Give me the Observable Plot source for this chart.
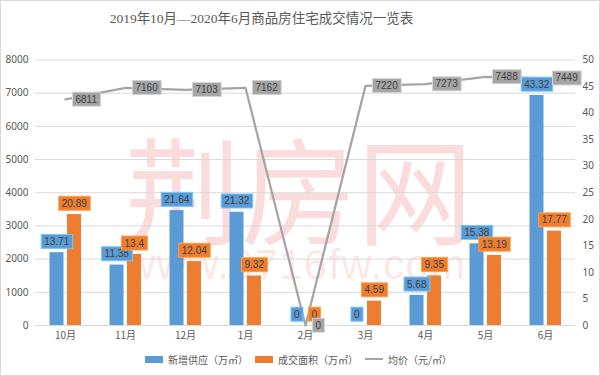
<!DOCTYPE html>
<html><head><meta charset="utf-8">
<script src="https://cdn.jsdelivr.net/npm/d3@7"></script>
<script src="https://cdn.jsdelivr.net/npm/@observablehq/plot@0.6"></script>
<style>
body{margin:0;background:#fff;}
#wrap{position:relative;width:600px;height:376px;overflow:hidden;background:#fff;font-family:"Liberation Sans","Noto Sans CJK SC",sans-serif;}
#frame{position:absolute;left:0;top:0;width:600px;height:376px;box-sizing:border-box;border:1px solid #d9d9d9;pointer-events:none;}
#title{position:absolute;left:0;top:10px;width:523px;text-align:center;font-family:"Liberation Serif","Noto Sans CJK SC",serif;font-size:13.5px;line-height:18px;color:#595959;white-space:nowrap;}
#wm1{position:absolute;left:125px;top:127px;font-family:"Noto Sans CJK SC",sans-serif;font-size:116px;line-height:1;color:rgba(232,60,60,0.18);white-space:nowrap;}
#wm2{position:absolute;left:125px;top:244px;font-family:"Liberation Sans",sans-serif;font-size:42px;line-height:1;letter-spacing:1.2px;color:rgba(232,60,60,0.13);white-space:nowrap;}
#chart{position:absolute;left:0;top:40px;}
#legend{position:absolute;left:0;top:352px;width:597px;height:14px;display:flex;justify-content:center;align-items:center;font-size:10px;color:#595959;font-family:"Noto Sans CJK SC",sans-serif;}
.item{display:flex;align-items:center;margin:0 3.5px;}
.sw{width:18px;height:7px;margin-right:5px;}
.ln{width:18px;height:2.5px;margin-right:5px;}
</style></head><body>
<div id="wrap">
  <div id="wm1">荆房网</div>
  <div id="wm2">www.0716fw.com</div>
  <div id="title"></div>
  <div id="chart"></div>
  <div id="legend"></div>
  <div id="frame"></div>
</div>
<script>
const titleText = "2019年10月—2020年6月商品房住宅成交情况一览表";
const months = ["10月","11月","12月","1月","2月","3月","4月","5月","6月"];
const supply = [13.71, 11.38, 21.64, 21.32, 0, 0, 5.68, 15.38, 43.32];
const sales = [20.89, 13.4, 12.04, 9.32, 0, 4.59, 9.35, 13.19, 17.77];
const price = [6811, 7160, 7103, 7162, 0, 7220, 7273, 7488, 7449];
const leftTicks = [0, 1000, 2000, 3000, 4000, 5000, 6000, 7000, 8000];
const rightTicks = [0, 5, 10, 15, 20, 25, 30, 35, 40, 45, 50];
const seriesNames = ["新增供应（万㎡）", "成交面积（万㎡）", "均价（元/㎡）"];
const colors = ["#5b9bd5", "#ed7d31", "#a5a5a5"];

document.getElementById("title").textContent = titleText;

const k = 8000 / 50; // secondary axis ratio
const rows = months.map((m, i) => ({m, s: supply[i], a: sales[i], p: price[i]}));
const font = '"Liberation Sans","Noto Sans CJK SC",sans-serif';

const plot = Plot.plot({
  width: 600, height: 305,
  marginLeft: 35, marginRight: 25, marginTop: 19.5, marginBottom: 20,
  style: {fontFamily: font, fontSize: "10px", color: "#595959", background: "transparent", overflow: "visible"},
  x: {type: "band", domain: months, padding: 0, label: null},
  y: {domain: [0, 8000], label: null},
  marks: [
    Plot.ruleY(leftTicks, {stroke: "#d9d9d9", strokeWidth: 1}),
    Plot.axisY(leftTicks, {anchor: "left", tickSize: 0, tickPadding: 7, tickFormat: d => String(d), label: null, fill: "#595959", fontFamily: '"Noto Sans",sans-serif'}),
    Plot.axisY(rightTicks.map(v => v * k), {anchor: "right", tickSize: 0, tickPadding: 7, tickFormat: d => String(d / k), label: null, fill: "#595959", fontFamily: '"Noto Sans",sans-serif'}),
    Plot.axisX({tickSize: 0, tickPadding: 6, label: null, fill: "#595959", fontFamily: '"Noto Sans CJK SC",sans-serif'}),
    Plot.barY(rows, {x: "m", y: d => d.s * k, fill: colors[0], insetLeft: 14.5, insetRight: 31.5}),
    Plot.barY(rows, {x: "m", y: d => d.a * k, fill: colors[1], insetLeft: 32, insetRight: 14}),
    Plot.line(rows, {x: "m", y: "p", stroke: colors[2], strokeWidth: 2.25}),
    Plot.text(rows, {x: "m", y: d => d.s * k, text: d => String(d.s), dx: -8.75, dy: -11, fill: "#404040", fontSize: 10}),
    Plot.text(rows, {x: "m", y: d => d.a * k, text: d => String(d.a), dx: 8.75, dy: -11, fill: "#404040", fontSize: 10}),
    Plot.text(rows, {x: "m", y: "p", text: d => String(d.p), dx: 10, textAnchor: "start", fill: "#404040", fontSize: 10})
  ]
});
document.getElementById("chart").appendChild(plot);

// label boxes behind data labels
const groups = plot.querySelectorAll('g[aria-label="text"]');
groups.forEach((g, gi) => {
  const c = colors[gi] || colors[2];
  const border = d3.color(c).brighter(0.7).formatHex();
  g.querySelectorAll("text").forEach(t => {
    const b = t.getBBox();
    const r = document.createElementNS("http://www.w3.org/2000/svg", "rect");
    r.setAttribute("x", b.x - 3);
    r.setAttribute("y", b.y - 1.5);
    r.setAttribute("width", b.width + 6);
    r.setAttribute("height", b.height + 3);
    r.setAttribute("fill", c);
    r.setAttribute("stroke", border);
    r.setAttribute("stroke-width", 1);
    if (t.getAttribute("transform")) r.setAttribute("transform", t.getAttribute("transform"));
    g.insertBefore(r, t);
  });
});

// legend
const legend = document.getElementById("legend");
seriesNames.forEach((name, i) => {
  const it = document.createElement("div");
  it.className = "item";
  const sw = document.createElement("div");
  sw.className = i < 2 ? "sw" : "ln";
  sw.style.background = colors[i];
  const tx = document.createElement("span");
  tx.textContent = name;
  it.appendChild(sw); it.appendChild(tx);
  legend.appendChild(it);
});
</script>
</body></html>
